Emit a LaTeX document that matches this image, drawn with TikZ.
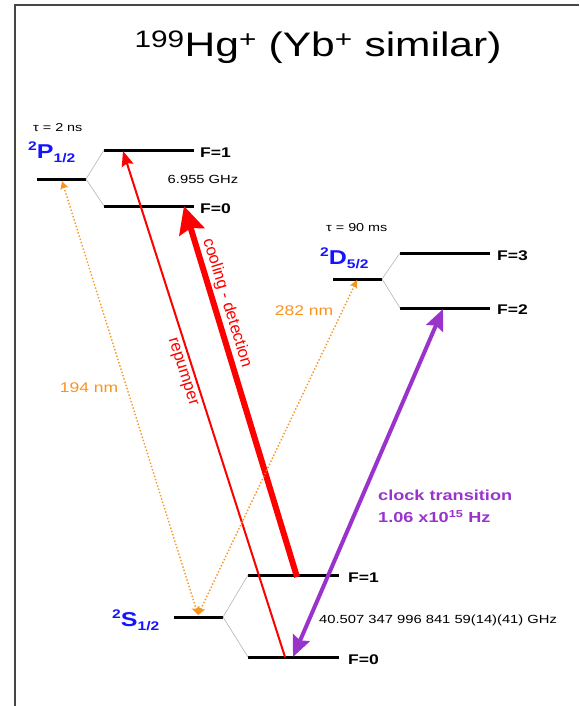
\documentclass[tikz,border=0pt]{standalone}
\usepackage{fontspec}
\setmainfont{Liberation Sans}[FakeStretch=1.25]
\newfontfamily\rotfont{Liberation Sans}
\usetikzlibrary{arrows.meta}
\definecolor{lvlblue}{RGB}{20,20,255}
\definecolor{orng}{RGB}{247,148,30}
\definecolor{purp}{RGB}{153,51,204}
\definecolor{lnkgray}{RGB}{180,180,180}
\definecolor{framegray}{RGB}{70,70,70}
\newcommand{\stlab}[3]{{\fontsize{20}{20}\selectfont\bfseries\raisebox{7.5pt}{\fontsize{12.5}{12.5}\selectfont #1}#2\raisebox{-4.5pt}{\fontsize{12.5}{12.5}\selectfont #3}}}
\begin{document}
\begin{tikzpicture}[x=1pt,y=-1pt,
  level/.style={line width=3pt},
  link/.style={lnkgray, line width=0.6pt},
  flab/.style={font=\fontsize{14}{14}\selectfont\bfseries, anchor=west, inner sep=0},
  small/.style={font=\fontsize{11.8}{11.8}\selectfont, inner sep=0},
  taulab/.style={font=\fontsize{11.5}{11.5}\selectfont, anchor=west, inner sep=0},
  statelab/.style={text=lvlblue, anchor=base west, inner sep=0},
  nmlab/.style={text=orng, font=\fontsize{14}{14}\selectfont, inner sep=0},
  rotlab/.style={text=red, font=\rotfont\fontsize{16.5}{16.5}\selectfont, inner sep=0},
  uv/.style={orng, line width=1.4pt, dotted, {Stealth[length=8pt,width=8pt,inset=1.5pt]}-{Stealth[length=8pt,width=8pt,inset=1.5pt]}}
]
\useasboundingbox (0,0) rectangle (579,706);
% frame
\draw[framegray, line width=1.5pt] (15,706) -- (15,5) -- (579,5);
% title
\node[anchor=base, inner sep=0, font=\fontsize{34}{34}\selectfont] (title) at (318,57)
  {\textsuperscript{199}Hg\textsuperscript{+} (Yb\textsuperscript{+} similar)};

% P levels
\coordinate (pcl) at (37,179); \coordinate (pcr) at (86,179);
\coordinate (p1l) at (104,150); \coordinate (p1r) at (194,150);
\coordinate (p0l) at (104,206); \coordinate (p0r) at (194,206);
\draw[level] (pcl) -- (pcr);
\draw[level] (p1l) -- (p1r);
\draw[level] (p0l) -- (p0r);
\draw[link] (pcr) -- (p1l);
\draw[link] (pcr) -- (p0l);
% D levels
\coordinate (dcl) at (333,279); \coordinate (dcr) at (382,279);
\coordinate (d3l) at (400,253); \coordinate (d3r) at (490,253);
\coordinate (d2l) at (400,308); \coordinate (d2r) at (490,308);
\draw[level] (dcl) -- (dcr);
\draw[level] (d3l) -- (d3r);
\draw[level] (d2l) -- (d2r);
\draw[link] (dcr) -- (d3l);
\draw[link] (dcr) -- (d2l);
% S levels
\coordinate (scl) at (174,617); \coordinate (scr) at (223,617);
\coordinate (s1l) at (248,575); \coordinate (s1r) at (339,575);
\coordinate (s0l) at (248,657); \coordinate (s0r) at (339,657);
\draw[level] (scl) -- (scr);
\draw[level] (s1l) -- (s1r);
\draw[level] (s0l) -- (s0r);
\draw[link] (scr) -- (s1l);
\draw[link] (scr) -- (s0l);

% labels
\node[flab] (lp1) at (200,153) {F=1};
\node[flab] (lp0) at (200,209) {F=0};
\node[flab] (ld3) at (497,256) {F=3};
\node[flab] (ld2) at (497,310) {F=2};
\node[flab] (ls1) at (348,578) {F=1};
\node[flab] (ls0) at (348,660) {F=0};
\node[small] (hfp) at (203,179) {6.955 GHz};
\node[small, anchor=west] (hfs) at (319,620) {40.507 347 996 841 59(14)(41) GHz};
\node[taulab] (taup) at (33,128) {τ = 2 ns};
\node[taulab] (taud) at (326,228) {τ = 90 ms};
\node[statelab] (sp) at (28,158) {\stlab{2}{P}{1/2}};
\node[statelab] (sd) at (320,264) {\stlab{2}{D}{5/2}};
\node[statelab] (ss) at (112,626) {\stlab{2}{S}{1/2}};

% transition end points
\coordinate (coolA) at (297,577);
\coordinate (coolB) at (184,206);
\coordinate (repA) at (285,657);
\coordinate (repB) at (123,151);
\coordinate (clkA) at (443,309);
\coordinate (clkB) at (293,657);
\coordinate (uvP) at (62,181);
\coordinate (uvD) at (357,280);
\coordinate (uvS) at (198,615);

% transitions
\draw[red, line width=2pt, -{Stealth[length=15pt,width=12pt,inset=2pt]}] (repA) -- (repB);
\draw[red, line width=6pt, -{Stealth[length=27pt,width=26pt,inset=4pt]}] (coolA) -- (coolB);
\draw[purp, line width=4pt, {Stealth[length=21pt,width=18pt,inset=3pt]}-{Stealth[length=21pt,width=18pt,inset=3pt]}] (clkB) -- (clkA);
\draw[uv] (uvP) -- (uvS);
\draw[uv] (uvD) -- (uvS);

% transition labels
\node[rotlab, rotate=-72.9] (lcool) at (227,303) {cooling - detection};
\node[rotlab, rotate=-72.2] (lrep) at (182,372) {repumper};
\node[nmlab] (l194) at (89,388) {194 nm};
\node[nmlab] (l282) at (304,311) {282 nm};
\node[anchor=north west, align=left, inner sep=0, text=purp, font=\fontsize{14.5}{22}\selectfont\bfseries] (lclk) at (378,490)
  {clock transition\\1.06 x10\textsuperscript{15} Hz};
\end{tikzpicture}
\end{document}
